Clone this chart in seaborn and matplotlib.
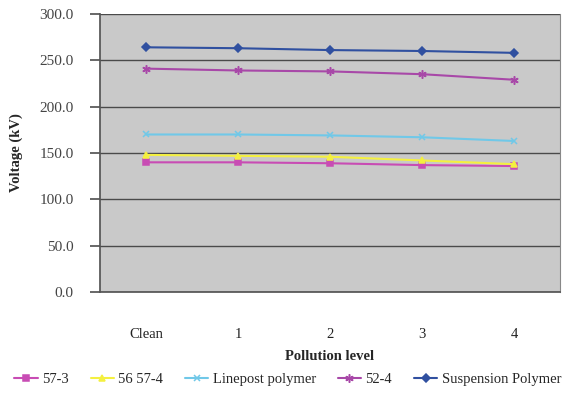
import pandas as pd
import numpy as np
import matplotlib.pyplot as plt
import seaborn as sns

# Values
levels = ['Clean', '1', '2', '3', '4']
series_names = ['57-3', '56 57-4', 'Linepost polymer', '52-4', 'Suspension Polymer']
v_57_3 = [140, 140, 139, 137, 136]
v_56_57_4 = [148, 147, 146, 142, 138]
v_linepost = [170, 170, 169, 167, 163]
v_52_4 = [241, 239, 238, 235, 229]
v_suspension = [264, 263, 261, 260, 258]

colors = ['#c84cb4', '#f4f040', '#70c8e8', '#a848a8', '#3050a0']
markers = ['s', '^', 'x', (6, 2, 0), 'D']
msizes = [5, 5, 5, 6, 4]

rows = []
for name, vals in zip(series_names,
                      [v_57_3, v_56_57_4, v_linepost, v_52_4, v_suspension]):
    for lv, v in zip(levels, vals):
        rows.append({'Pollution level': lv, 'Voltage': v, 'Series': name})
df = pd.DataFrame(rows)

sns.set_theme(style='white')
plt.rcParams['font.family'] = ['Liberation Serif', 'DejaVu Serif']

fig = plt.figure(figsize=(5.71, 3.97), dpi=100)
ax = fig.add_axes([0.175, 0.264, 0.806, 0.701])
ax.set_facecolor('#c9c9c9')

# one call per series (filled and line-art markers can't share a style map)
for name, col, mk, ms in zip(series_names, colors, markers, msizes):
    sub = df[df['Series'] == name]
    sns.lineplot(data=sub, x='Pollution level', y='Voltage', color=col,
                 marker=mk, markersize=ms, markeredgewidth=1.1,
                 markeredgecolor=col, linewidth=1.5, sort=False,
                 label=name, ax=ax)

ax.set_xlim(-0.5, 4.5)
ax.set_ylim(0, 300)
ax.set_yticks(np.arange(0, 301, 50))
ax.set_yticklabels(['%.1f' % t for t in np.arange(0, 301, 50)],
                   fontsize=11, color='#444444')
ax.set_xticks(range(len(levels)))
ax.set_xticklabels(levels, fontsize=10.5, color='#222222')
ax.grid(axis='y', color='#4a4a4a', linewidth=1.0)
ax.set_axisbelow(True)
ax.tick_params(axis='y', length=7, color='#555555', pad=12, left=True)
ax.tick_params(axis='x', length=0, pad=26)

ax.spines['top'].set_visible(False)
ax.spines['right'].set_color('#888888')
ax.spines['right'].set_linewidth(0.8)
ax.spines['left'].set_color('#555555')
ax.spines['bottom'].set_color('#555555')

ax.set_xlabel('Pollution level', fontsize=10.5, fontweight='bold', labelpad=6)
ax.set_ylabel('Voltage (kV)', fontsize=10.5, fontweight='bold', labelpad=12)

handles, labels = ax.get_legend_handles_labels()
ax.legend(handles, labels, loc='upper center', bbox_to_anchor=(0.408, -0.27),
          ncol=5, frameon=False, fontsize=10.5, handlelength=1.6,
          handletextpad=0.3, columnspacing=1.5, borderaxespad=0)

fig.savefig('out.png', dpi=100)
